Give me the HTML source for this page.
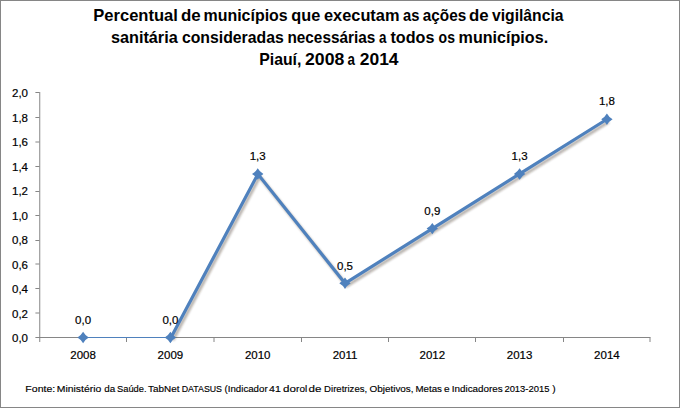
<!DOCTYPE html>
<html><head><meta charset="utf-8">
<style>
html,body{margin:0;padding:0;background:#fff;}
body{width:680px;height:408px;overflow:hidden;position:relative;}
svg{position:absolute;left:0;top:0;}
text{font-family:"Liberation Sans",sans-serif;fill:#000;}
.t{font-weight:bold;font-size:16.5px;}
.a{font-size:11.5px;stroke:#000;stroke-width:0.2px;}
.f{font-size:9.5px;stroke:#000;stroke-width:0.15px;}
</style></head><body>
<svg width="680" height="408" viewBox="0 0 680 408">
<defs>
<filter id="sh" x="-10%" y="-10%" width="120%" height="120%">
<feGaussianBlur stdDeviation="1.1"/>
</filter>
</defs>
<!-- frame -->
<rect x="0.5" y="0.5" width="679" height="407" fill="#fff" stroke="#868686" stroke-width="1"/>
<!-- title -->
<text class="t" x="93.27" y="21" textLength="84.65" lengthAdjust="spacingAndGlyphs">Percentual</text>
<text class="t" x="180.96" y="21" textLength="19.76" lengthAdjust="spacingAndGlyphs">de</text>
<text class="t" x="203.51" y="21" textLength="84.18" lengthAdjust="spacingAndGlyphs">municípios</text>
<text class="t" x="291.28" y="21" textLength="29.0" lengthAdjust="spacingAndGlyphs">que</text>
<text class="t" x="323.98" y="21" textLength="75.52" lengthAdjust="spacingAndGlyphs">executam</text>
<text class="t" x="402.95" y="21" textLength="16.39" lengthAdjust="spacingAndGlyphs">as</text>
<text class="t" x="422.74" y="21" textLength="43.48" lengthAdjust="spacingAndGlyphs">ações</text>
<text class="t" x="468.96" y="21" textLength="19.65" lengthAdjust="spacingAndGlyphs">de</text>
<text class="t" x="491.98" y="21" textLength="71.55" lengthAdjust="spacingAndGlyphs">vigilância</text>
<text class="t" x="110.88" y="43" textLength="66.89" lengthAdjust="spacingAndGlyphs">sanitária</text>
<text class="t" x="181.9" y="43" textLength="101.9" lengthAdjust="spacingAndGlyphs">consideradas</text>
<text class="t" x="287.45" y="43" textLength="87.82" lengthAdjust="spacingAndGlyphs">necessárias</text>
<text class="t" x="378.99" y="43" textLength="7.45" lengthAdjust="spacingAndGlyphs">a</text>
<text class="t" x="390.48" y="43" textLength="43.97" lengthAdjust="spacingAndGlyphs">todos</text>
<text class="t" x="438.57" y="43" textLength="16.37" lengthAdjust="spacingAndGlyphs">os</text>
<text class="t" x="458.6" y="43" textLength="89.55" lengthAdjust="spacingAndGlyphs">municípios.</text>
<text class="t" x="259.22" y="64.5" textLength="42.17" lengthAdjust="spacingAndGlyphs">Piauí,</text>
<text class="t" x="305.07" y="64.5" textLength="39.22" lengthAdjust="spacingAndGlyphs">2008</text>
<text class="t" x="347.49" y="64.5" textLength="7.45" lengthAdjust="spacingAndGlyphs">a</text>
<text class="t" x="359.77" y="64.5" textLength="38.82" lengthAdjust="spacingAndGlyphs">2014</text>
<!-- axes -->
<g stroke="#868686" stroke-width="1" fill="none">
<path d="M39.75 92 V342"/>
<path d="M35.4 92.5 H39.5 M35.4 117.5 H39.5 M35.4 142 H39.5 M35.4 166.5 H39.5 M35.4 191.5 H39.5 M35.4 215.5 H39.5 M35.4 240.5 H39.5 M35.4 264 H39.5 M35.4 288.5 H39.5 M35.4 313 H39.5 M35.4 337.5 H39.5"/>
<path d="M39 337.5 H650.5"/>
<path d="M126.5 337.5 V342 M214 337.5 V342 M301.5 337.5 V342 M388.5 337.5 V342 M475.5 337.5 V342 M563.5 337.5 V342 M650 337.5 V342"/>
</g>
<!-- y labels -->
<g class="a" text-anchor="end">
<text x="28" y="97">2,0</text>
<text x="28" y="121.5">1,8</text>
<text x="28" y="146">1,6</text>
<text x="28" y="170.5">1,4</text>
<text x="28" y="195">1,2</text>
<text x="28" y="219.5">1,0</text>
<text x="28" y="244">0,8</text>
<text x="28" y="268.5">0,6</text>
<text x="28" y="293">0,4</text>
<text x="28" y="317.5">0,2</text>
<text x="28" y="342">0,0</text>
</g>
<!-- x labels -->
<g class="a" text-anchor="middle">
<text x="83.1" y="359">2008</text>
<text x="170.4" y="359">2009</text>
<text x="257.7" y="359">2010</text>
<text x="345" y="359">2011</text>
<text x="432.3" y="359">2012</text>
<text x="519.6" y="359">2013</text>
<text x="606.9" y="359">2014</text>
</g>
<!-- series shadow -->
<path d="M171.0 337.50 L257.9 174.1 L345.0 283.31 L432.3 228.62 L519.6 173.94 L606.9 119.25" stroke="#3a2a1a" stroke-opacity="0.38" stroke-width="3" fill="none" filter="url(#sh)" transform="translate(1.8,2.5)"/>
<!-- series -->
<path d="M83.1 337.5 H170.4" stroke="#4F81BD" stroke-width="1.2" fill="none"/>
<path d="M171.0 337.50 L257.9 174.1 L345.0 283.31 L432.3 228.62 L519.6 173.94 L606.9 119.25" stroke="#4F81BD" stroke-width="3.2" fill="none" stroke-linejoin="miter"/>
<g fill="#4F81BD">
<path d="M83.10 331.80 Q85.15 335.45 88.80 337.50 Q85.15 339.55 83.10 343.20 Q81.05 339.55 77.40 337.50 Q81.05 335.45 83.10 331.80Z"/>
<path d="M170.40 331.80 Q172.45 335.45 176.10 337.50 Q172.45 339.55 170.40 343.20 Q168.35 339.55 164.70 337.50 Q168.35 335.45 170.40 331.80Z"/>
<path d="M257.70 168.24 Q259.75 171.89 263.40 173.94 Q259.75 175.99 257.70 179.64 Q255.65 175.99 252.00 173.94 Q255.65 171.89 257.70 168.24Z"/>
<path d="M345.00 277.61 Q347.05 281.26 350.70 283.31 Q347.05 285.36 345.00 289.01 Q342.95 285.36 339.30 283.31 Q342.95 281.26 345.00 277.61Z"/>
<path d="M432.30 222.92 Q434.35 226.57 438.00 228.62 Q434.35 230.67 432.30 234.32 Q430.25 230.67 426.60 228.62 Q430.25 226.57 432.30 222.92Z"/>
<path d="M519.60 168.24 Q521.65 171.89 525.30 173.94 Q521.65 175.99 519.60 179.64 Q517.55 175.99 513.90 173.94 Q517.55 171.89 519.60 168.24Z"/>
<path d="M606.90 113.55 Q608.95 117.20 612.60 119.25 Q608.95 121.30 606.90 124.95 Q604.85 121.30 601.20 119.25 Q604.85 117.20 606.90 113.55Z"/>
</g>
<!-- data labels -->
<g class="a" text-anchor="middle">
<text x="83.1" y="324">0,0</text>
<text x="170.4" y="324">0,0</text>
<text x="257.7" y="160">1,3</text>
<text x="345" y="270">0,5</text>
<text x="432.3" y="215">0,9</text>
<text x="519.6" y="160">1,3</text>
<text x="606.9" y="105">1,8</text>
</g>
<!-- footer -->
<text class="f" x="25.37" y="392" textLength="29.83" lengthAdjust="spacingAndGlyphs">Fonte:</text>
<text class="f" x="56.78" y="392" textLength="44.46" lengthAdjust="spacingAndGlyphs">Ministério</text>
<text class="f" x="104.31" y="392" textLength="10.93" lengthAdjust="spacingAndGlyphs">da</text>
<text class="f" x="117.01" y="392" textLength="29.54" lengthAdjust="spacingAndGlyphs">Saúde.</text>
<text class="f" x="148.14" y="392" textLength="31.27" lengthAdjust="spacingAndGlyphs">TabNet</text>
<text class="f" x="181.7" y="392" textLength="40.32" lengthAdjust="spacingAndGlyphs">DATASUS</text>
<text class="f" x="224.56" y="392" textLength="43.06" lengthAdjust="spacingAndGlyphs">(Indicador</text>
<text class="f" x="269.12" y="392" textLength="11.77" lengthAdjust="spacingAndGlyphs">41</text>
<text class="f" x="283.04" y="392" textLength="12.9" lengthAdjust="spacingAndGlyphs">do</text>
<text class="f" x="296.14" y="392" textLength="11.07" lengthAdjust="spacingAndGlyphs">rol</text>
<text class="f" x="308.64" y="392" textLength="12.9" lengthAdjust="spacingAndGlyphs">de</text>
<text class="f" x="324.14" y="392" textLength="43.04" lengthAdjust="spacingAndGlyphs">Diretrizes,</text>
<text class="f" x="369.51" y="392" textLength="44.09" lengthAdjust="spacingAndGlyphs">Objetivos,</text>
<text class="f" x="415.53" y="392" textLength="26.45" lengthAdjust="spacingAndGlyphs">Metas</text>
<text class="f" x="443.9" y="392" textLength="5.64" lengthAdjust="spacingAndGlyphs">e</text>
<text class="f" x="451.79" y="392" textLength="50.99" lengthAdjust="spacingAndGlyphs">Indicadores</text>
<text class="f" x="504.4" y="392" textLength="45.02" lengthAdjust="spacingAndGlyphs">2013-2015</text>
<text class="f" x="552.36" y="392" textLength="3.42" lengthAdjust="spacingAndGlyphs">)</text>
</svg>
</body></html>
